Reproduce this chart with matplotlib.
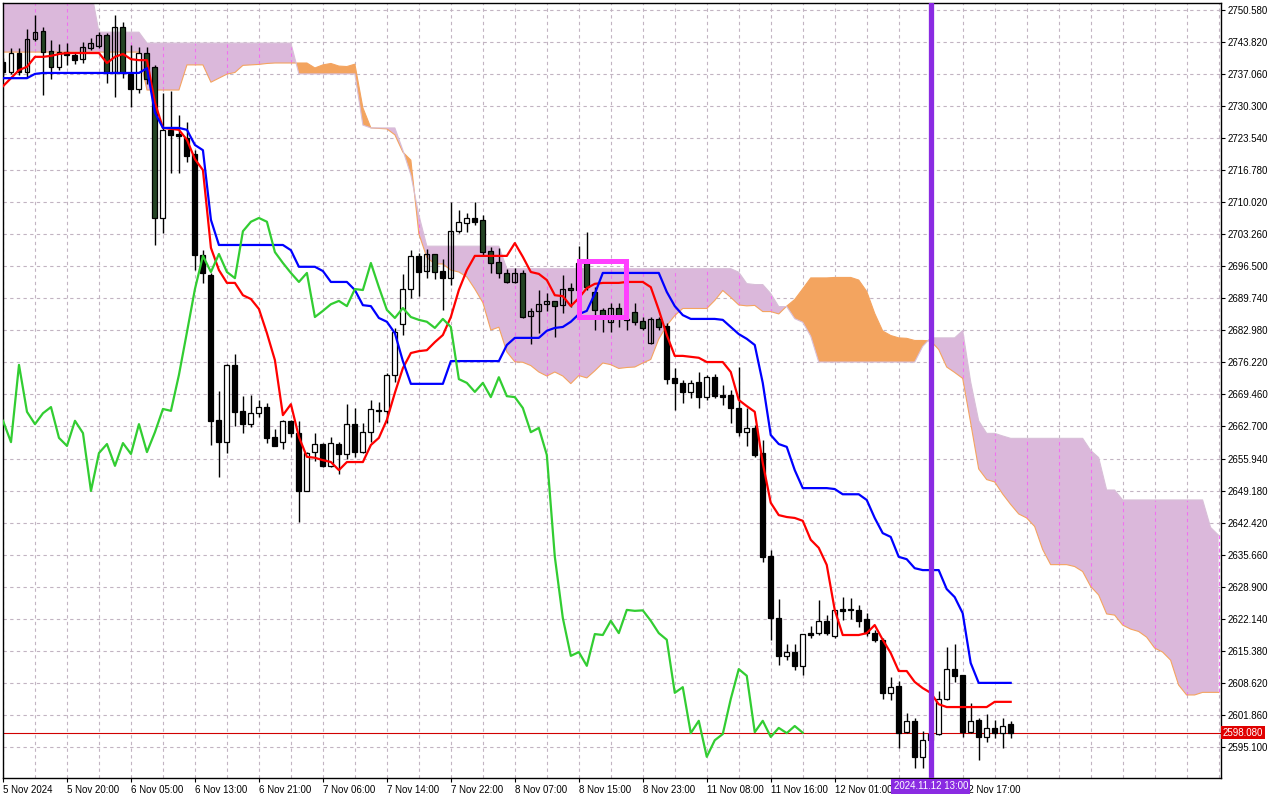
import numpy as np
import pandas as pd
import matplotlib
matplotlib.use("Agg")
import matplotlib.pyplot as plt
from matplotlib.patches import Rectangle

plt.rcParams['font.family'] = ['Liberation Sans', 'DejaVu Sans']

# hourly XAUUSD candles (bar 0 = 5 Nov 12:00)
opens = [
    2739.6, 2737.5, 2741.5, 2737.5, 2744.5, 2746.1, 2741.9, 2738.6, 2741.7, 2741.1,
    2740.2, 2742.6, 2743.0, 2745.3, 2737.5, 2747.0, 2737.1, 2733.9, 2741.5, 2738.6,
    2706.7, 2725.3, 2724.4, 2723.6, 2720.2, 2698.9, 2694.7, 2664.1, 2659.4, 2675.7,
    2666.0, 2663.2, 2665.5, 2666.8, 2660.5, 2659.4, 2663.9, 2661.3, 2649.1, 2657.3,
    2659.0, 2654.4, 2659.0, 2656.9, 2663.2, 2657.3, 2661.5, 2666.2, 2666.0, 2673.6,
    2684.3, 2691.7, 2698.7, 2695.5, 2699.1, 2695.5, 2694.0, 2703.9, 2705.6, 2706.7,
    2706.3, 2699.7, 2697.4, 2695.1, 2693.2, 2695.1, 2686.0, 2687.1, 2688.5, 2689.2,
    2688.3, 2691.9, 2691.5, 2697.2, 2691.1, 2687.3, 2684.8, 2687.7, 2685.4, 2686.9,
    2685.0, 2680.3, 2685.4, 2683.9, 2672.9, 2671.9, 2670.0, 2672.1, 2668.9, 2673.1,
    2669.3, 2669.3, 2666.6, 2661.5, 2662.4, 2657.1, 2635.4, 2622.3, 2614.3, 2615.1,
    2612.2, 2619.1, 2619.1, 2621.7, 2618.5, 2624.2, 2624.2, 2624.0, 2622.1, 2619.1,
    2617.7, 2606.5, 2607.9, 2598.2, 2600.6, 2593.0, 2596.5, 2597.8, 2605.2, 2611.5,
    2610.3, 2598.2, 2600.8, 2597.2, 2599.1, 2598.0, 2599.9,
]
highs = [
    2740.5, 2742.6, 2742.6, 2746.6, 2749.5, 2747.0, 2744.3, 2743.4, 2743.6, 2741.5,
    2743.8, 2744.7, 2745.9, 2745.7, 2749.5, 2748.0, 2743.2, 2742.8, 2742.8, 2739.0,
    2733.1, 2733.5, 2728.4, 2726.9, 2721.0, 2699.9, 2695.1, 2670.2, 2675.9, 2678.0,
    2669.1, 2669.3, 2668.3, 2667.7, 2662.2, 2664.1, 2664.1, 2663.9, 2657.3, 2661.3,
    2659.2, 2660.5, 2659.4, 2667.4, 2666.6, 2663.4, 2668.3, 2667.9, 2674.0, 2683.5,
    2694.9, 2699.9, 2699.3, 2700.2, 2699.1, 2698.0, 2710.1, 2708.4, 2707.8, 2710.1,
    2707.3, 2700.6, 2700.4, 2695.9, 2696.1, 2695.7, 2687.7, 2691.5, 2690.9, 2689.2,
    2694.7, 2693.0, 2700.8, 2703.7, 2692.1, 2687.7, 2688.8, 2688.8, 2687.5, 2688.8,
    2685.8, 2685.8, 2685.8, 2684.5, 2675.0, 2672.5, 2672.5, 2674.2, 2673.6, 2673.8,
    2671.5, 2670.4, 2675.3, 2666.6, 2663.0, 2659.8, 2636.6, 2626.3, 2616.8, 2616.8,
    2618.9, 2620.6, 2626.1, 2622.9, 2624.0, 2626.7, 2626.5, 2625.0, 2623.3, 2619.8,
    2618.1, 2609.8, 2609.0, 2602.3, 2601.2, 2598.4, 2599.1, 2606.9, 2616.2, 2616.8,
    2610.3, 2604.4, 2601.2, 2602.1, 2600.8, 2601.2, 2600.6,
]
lows = [
    2736.6, 2737.1, 2736.9, 2736.4, 2744.0, 2732.7, 2736.0, 2737.9, 2739.0, 2739.2,
    2739.4, 2742.1, 2742.6, 2735.2, 2732.2, 2736.2, 2730.1, 2733.1, 2735.0, 2701.0,
    2703.5, 2716.2, 2716.2, 2718.5, 2695.7, 2693.0, 2658.8, 2652.0, 2657.1, 2662.8,
    2661.3, 2662.6, 2664.7, 2659.2, 2658.6, 2657.9, 2660.5, 2642.5, 2649.1, 2655.4,
    2654.2, 2654.2, 2652.7, 2655.8, 2656.3, 2657.1, 2659.4, 2663.6, 2663.4, 2672.1,
    2682.0, 2689.8, 2690.2, 2694.0, 2693.8, 2687.3, 2692.6, 2703.5, 2703.7, 2705.2,
    2698.9, 2695.1, 2694.0, 2693.0, 2693.0, 2685.6, 2680.1, 2682.4, 2687.1, 2681.6,
    2686.7, 2687.9, 2686.2, 2691.5, 2683.1, 2682.6, 2682.6, 2683.7, 2683.1, 2684.1,
    2683.1, 2680.1, 2683.1, 2671.7, 2666.2, 2667.7, 2668.7, 2666.6, 2668.3, 2668.7,
    2667.2, 2663.4, 2660.7, 2658.6, 2656.3, 2634.1, 2617.7, 2612.4, 2613.4, 2611.3,
    2610.3, 2618.1, 2618.7, 2618.7, 2618.1, 2621.9, 2622.1, 2620.4, 2618.5, 2617.2,
    2605.2, 2605.0, 2594.9, 2598.0, 2590.7, 2590.7, 2595.5, 2597.6, 2605.0, 2608.8,
    2597.2, 2598.0, 2592.3, 2596.1, 2597.0, 2594.9, 2597.0,
]
closes = [
    2737.5, 2741.5, 2737.5, 2744.5, 2745.9, 2741.7, 2738.6, 2741.7, 2741.1, 2740.0,
    2742.8, 2743.6, 2745.3, 2737.5, 2747.0, 2737.3, 2733.9, 2741.5, 2736.0, 2706.7,
    2725.3, 2724.2, 2724.0, 2719.8, 2698.9, 2695.1, 2663.9, 2659.4, 2675.7, 2665.8,
    2663.2, 2665.5, 2666.8, 2660.3, 2658.6, 2663.9, 2661.3, 2649.1, 2657.1, 2659.0,
    2654.4, 2659.2, 2656.9, 2663.2, 2657.3, 2661.5, 2666.4, 2666.0, 2673.6, 2682.6,
    2691.7, 2698.7, 2695.3, 2699.1, 2695.3, 2694.0, 2703.9, 2705.9, 2706.7, 2705.9,
    2699.5, 2697.2, 2695.1, 2693.2, 2695.1, 2685.8, 2687.1, 2688.5, 2689.2, 2688.1,
    2691.7, 2691.5, 2697.2, 2692.1, 2687.3, 2685.6, 2687.7, 2685.8, 2685.2, 2684.8,
    2683.5, 2685.4, 2683.7, 2672.7, 2671.9, 2670.0, 2671.9, 2668.9, 2673.1, 2669.1,
    2668.9, 2666.6, 2661.5, 2662.4, 2656.7, 2635.2, 2622.3, 2614.3, 2615.1, 2612.2,
    2618.9, 2618.7, 2621.7, 2619.1, 2624.0, 2623.8, 2623.9, 2621.7, 2619.1, 2617.7,
    2606.5, 2607.7, 2598.0, 2600.6, 2593.0, 2596.5, 2597.8, 2605.2, 2611.5, 2610.1,
    2598.2, 2600.6, 2597.2, 2599.1, 2598.0, 2599.5, 2598.08,
]

# Ichimoku lines
tenkan = [
    2734.5, 2736.2, 2737.9, 2738.6, 2740.7, 2740.7, 2740.9, 2741.3, 2741.5, 2741.5,
    2741.5, 2741.5, 2741.5, 2739.4, 2740.7, 2741.3, 2740.2, 2740.0, 2740.0, 2731.0,
    2725.7, 2725.5, 2725.3, 2723.2, 2719.1, 2716.8, 2700.4, 2695.7, 2693.0, 2693.0,
    2690.4, 2689.6, 2687.5, 2682.4, 2676.7, 2665.1, 2667.4, 2660.5, 2656.3, 2656.1,
    2655.6, 2655.2, 2653.5, 2655.2, 2655.2, 2655.2, 2658.8, 2660.3, 2664.1, 2669.8,
    2675.0, 2678.2, 2678.6, 2678.8, 2680.5, 2682.0, 2685.8, 2691.5, 2695.7, 2698.7,
    2698.7, 2698.7, 2698.7, 2698.7, 2701.4, 2698.5, 2695.3, 2694.9, 2693.6, 2690.4,
    2690.2, 2688.1, 2689.8, 2691.9, 2692.8, 2693.0, 2693.0, 2693.0, 2693.2, 2693.2,
    2693.2, 2692.1, 2687.3, 2682.0, 2677.6, 2677.6, 2677.4, 2677.2, 2676.3, 2676.3,
    2676.3, 2674.2, 2668.3, 2667.0, 2665.8, 2655.0, 2646.6, 2644.0, 2643.6, 2643.4,
    2642.8, 2638.8, 2637.1, 2633.5, 2624.0, 2618.7, 2618.7, 2618.7, 2619.1, 2620.8,
    2617.7, 2614.9, 2611.1, 2611.1, 2608.8, 2607.5, 2606.5, 2604.1, 2603.5, 2603.5,
    2603.5, 2603.5, 2603.5, 2603.5, 2604.6, 2604.6, 2604.6,
]
kijun = [
    2736.2, 2736.2, 2736.2, 2736.2, 2737.1, 2737.3, 2737.3, 2737.3, 2737.3, 2737.3,
    2737.3, 2737.3, 2737.3, 2737.3, 2737.3, 2737.3, 2737.3, 2737.3, 2738.3, 2728.9,
    2725.7, 2725.7, 2725.7, 2725.3, 2722.1, 2721.0, 2706.3, 2701.0, 2701.0, 2701.0,
    2701.0, 2701.0, 2701.0, 2701.0, 2701.0, 2701.0, 2699.9, 2696.4, 2696.4, 2696.4,
    2695.5, 2693.2, 2693.2, 2693.2, 2691.5, 2688.3, 2688.1, 2685.6, 2684.8, 2682.4,
    2676.5, 2671.7, 2671.7, 2671.7, 2671.7, 2671.7, 2676.5, 2676.5, 2676.5, 2676.5,
    2676.5, 2676.5, 2676.5, 2679.9, 2681.4, 2681.4, 2681.4, 2681.4, 2682.9, 2683.5,
    2683.7, 2684.8, 2686.4, 2687.1, 2690.7, 2695.1, 2695.1, 2695.1, 2695.1, 2695.1,
    2695.1, 2695.1, 2695.1, 2691.1, 2688.1, 2686.2, 2685.4, 2685.4, 2685.4, 2685.4,
    2685.2, 2683.7, 2682.2, 2681.2, 2679.9, 2671.9, 2660.9, 2659.0, 2658.4, 2653.5,
    2649.7, 2649.7, 2649.7, 2649.7, 2649.5, 2648.4, 2648.4, 2648.4, 2647.2, 2643.4,
    2640.2, 2639.4, 2635.2, 2634.7, 2632.8, 2632.4, 2632.4, 2632.4, 2628.4, 2626.7,
    2623.3, 2612.8, 2608.6, 2608.6, 2608.6, 2608.6, 2608.6,
]
# cloud edges at the left of the chart (their source bars lie before bar 0)
span_a_head = [
    2741.7, 2741.7, 2741.7, 2741.7, 2741.7, 2741.7, 2741.7, 2741.7, 2741.7, 2741.7,
    2741.7, 2741.7, 2741.7, 2741.7, 2741.7, 2741.7, 2741.7, 2741.7, 2733.7, 2733.7,
    2733.7, 2733.7, 2733.7, 2739.0, 2739.0, 2739.0,
]
span_b_head = [
    2755.0, 2755.0, 2755.0, 2755.0, 2755.0, 2755.0, 2755.0, 2755.0, 2755.0, 2755.0,
    2755.0, 2755.0, 2745.9, 2745.9, 2745.9, 2745.9, 2745.9, 2745.9, 2743.6, 2743.6,
    2743.6, 2743.6, 2743.6, 2743.6, 2743.6, 2743.6, 2743.6, 2743.6, 2743.6, 2743.6,
    2743.6, 2743.6, 2743.6, 2743.6, 2743.6, 2743.6, 2743.6, 2737.1, 2737.1, 2737.1,
    2737.1, 2737.1, 2737.1, 2737.1, 2737.1, 2726.3, 2725.7, 2725.7, 2725.7, 2725.7,
    2721.0, 2715.8, 2707.3,
]

time_labels = ['5 Nov 2024', '5 Nov 20:00', '6 Nov 05:00', '6 Nov 13:00', '6 Nov 21:00',
               '7 Nov 06:00', '7 Nov 14:00', '7 Nov 22:00', '8 Nov 07:00', '8 Nov 15:00',
               '8 Nov 23:00', '11 Nov 08:00', '11 Nov 16:00', '12 Nov 01:00', '12 Nov 09:00',
               '12 Nov 17:00']
price_levels = [2750.58, 2743.82, 2737.06, 2730.30, 2723.54, 2716.78, 2710.02, 2703.26,
                2696.50, 2689.74, 2682.98, 2676.22, 2669.46, 2662.70, 2655.94, 2649.18,
                2642.42, 2635.66, 2628.90, 2622.14, 2615.38, 2608.62, 2601.86, 2595.10]
marker_bar = 116
marker_text = '2024.11.12 13:00'
last_price = 2598.08
# magenta highlight box: bars 72..78, price range
box_bars = (72.0, 77.9)
box_prices = (2685.7, 2697.7)

o = np.array(opens)
h = np.array(highs)
l = np.array(lows)
c = np.array(closes)
n = len(c)
bars = np.arange(n)

tk = np.array(tenkan)
kj = np.array(kijun)
span_a = np.concatenate([span_a_head, (tk + kj) / 2])
hi52 = pd.Series(h).rolling(52, min_periods=1).max()
lo52 = pd.Series(l).rolling(52, min_periods=1).min()
span_b = np.concatenate([span_b_head, ((hi52 + lo52) / 2).values[27:]])
cloud_x = np.arange(len(span_a))
chikou = c[26:]

pink = '#dbb8db'
orange = '#f3a45f'
grid_c = '#c2b4c2'

fig = plt.figure(figsize=(12.8, 8), dpi=100)
ax = fig.add_axes([3 / 1280, 22 / 800, 1218 / 1280, 775 / 800])

# grid
grid_x = list(range(0, 156, 4))
for v in grid_x:
    ax.axvline(v, color=grid_c, lw=0.8, ls=(0, (3, 3)), zorder=0.5)
for p in price_levels:
    ax.axhline(p, color=grid_c, lw=0.8, ls=(0, (3, 3)), zorder=0.5)

# cloud
ax.fill_between(cloud_x, span_a, span_b, where=span_b >= span_a, interpolate=True,
                color=pink, lw=0, zorder=1)
ax.fill_between(cloud_x, span_a, span_b, where=span_a > span_b, interpolate=True,
                color=orange, lw=0, zorder=1)
ax.plot(cloud_x, span_a, color='#f4a460', lw=0.8, zorder=1.2)
ax.plot(cloud_x, span_b, color='#d8bfd8', lw=0.8, zorder=1.2)

# vertical grid shows magenta where it crosses the thistle cloud
for v in grid_x:
    if v < len(span_a) and span_b[v] > span_a[v]:
        ax.plot([v, v], [span_a[v], span_b[v]], color='#f070f0', lw=0.8,
                ls=(0, (3, 3)), zorder=1.1)

# candles
up = c >= o
body_lo = np.minimum(o, c)
body_hi = np.maximum(o, c)
body_h = np.maximum(body_hi - body_lo, 0.15)
cl_lo = np.minimum(span_a[:n], span_b[:n])
cl_hi = np.maximum(span_a[:n], span_b[:n])
in_cloud = (body_hi > cl_lo) & (body_lo < cl_hi)
faces = []
for i in range(n):
    if up[i]:
        faces.append('none' if in_cloud[i] else 'white')
    else:
        faces.append('#244424' if in_cloud[i] else 'black')

ax.vlines(bars, l, h, color='black', lw=1.0, zorder=3)
ax.bar(bars, body_h, 0.62, bottom=body_lo, color=faces, edgecolor='black',
       linewidth=0.9, zorder=4)

# ichimoku lines
ax.plot(bars, tk, color='#ff0000', lw=1.6, zorder=5)
ax.plot(bars, kj, color='#0000ff', lw=1.6, zorder=5)
ax.plot(np.arange(len(chikou)), chikou, color='#32cd32', lw=1.6, zorder=5)

ax.axhline(last_price, color='#d00000', lw=0.8, zorder=2)

ax.add_patch(Rectangle((box_bars[0], box_prices[0]), box_bars[1] - box_bars[0],
                       box_prices[1] - box_prices[0], fill=False,
                       edgecolor='#ff40ff', lw=3.6, zorder=8))
ax.axvline(marker_bar, color='#8a2be2', lw=3.8, zorder=9)

ax.set_xlim(0.06, 152.3)
ax.set_ylim(2588.53, 2752.06)

ax.set_xticks(range(0, 8 * len(time_labels), 8))
ax.set_xticklabels(time_labels, ha='left')
ax.yaxis.tick_right()
ax.set_yticks(price_levels)
ax.set_yticklabels(['%.3f' % p for p in price_levels])
ax.tick_params(axis='both', length=3, width=0.8, labelsize=7, pad=2, colors='black')
# the 12 Nov 09:00 label sits under the marker's date tag
for t in ax.get_xticklabels():
    if t.get_text() == '12 Nov 09:00':
        t.set_visible(False)
for s in ax.spines.values():
    s.set_color('black')
    s.set_linewidth(1)

ax.text(1.0015, last_price, '2598.080', transform=ax.get_yaxis_transform(),
        ha='left', va='center', fontsize=7, color='white', clip_on=False, zorder=10,
        bbox=dict(facecolor='#e00000', edgecolor='none', pad=1.2))
ax.text(marker_bar, -0.0045, marker_text, transform=ax.get_xaxis_transform(),
        ha='center', va='top', fontsize=7, color='white', clip_on=False, zorder=10,
        bbox=dict(facecolor='#8a2be2', edgecolor='none', pad=1.5))

fig.savefig('out.png', dpi=100, facecolor='white')
